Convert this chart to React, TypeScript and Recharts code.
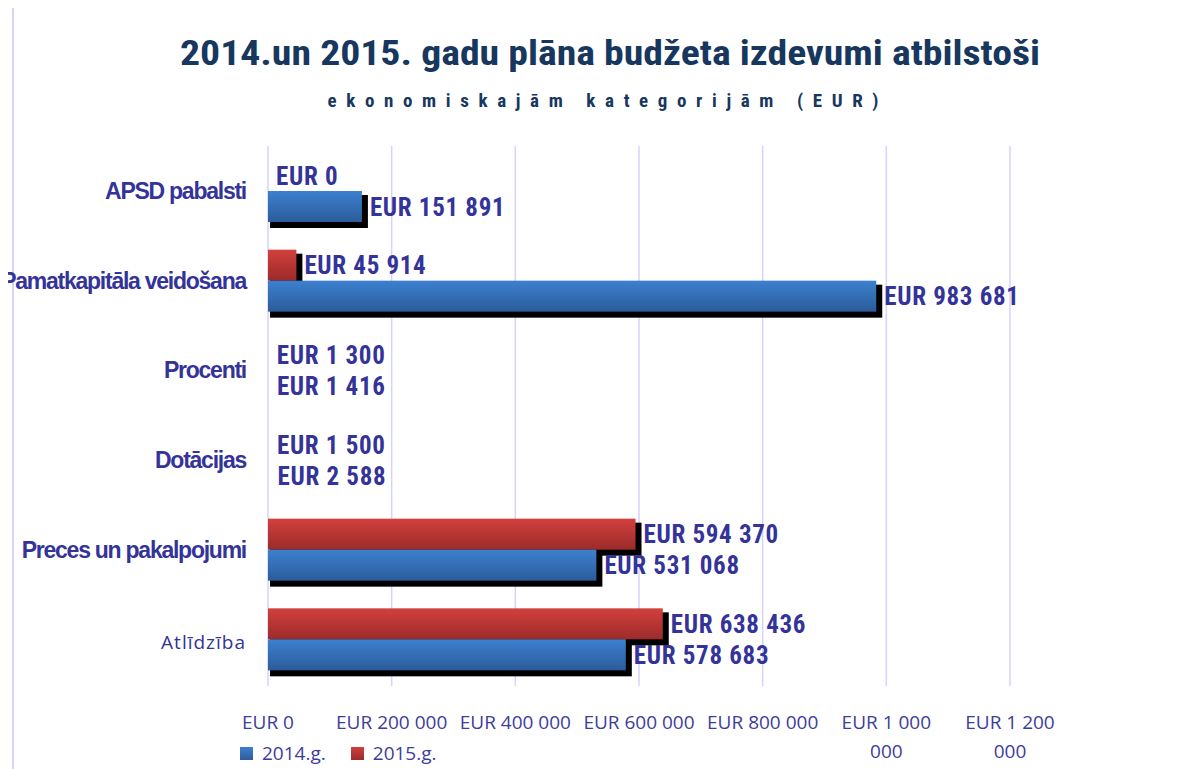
import { Bar, BarChart, CartesianGrid, LabelList, XAxis, YAxis } from 'recharts'

const categories = [
  'APSD pabalsti',
  'Pamatkapitāla veidošana',
  'Procenti',
  'Dotācijas',
  'Preces un pakalpojumi',
  'Atlīdzība',
]
const values2014 = [151891, 983681, 1416, 2588, 531068, 578683]
const values2015 = [0, 45914, 1300, 1500, 594370, 638436]
const xTicks = [0, 200000, 400000, 600000, 800000, 1000000, 1200000]
const seriesNames = ['2014.g.', '2015.g.']
const titleText = '2014.un 2015. gadu plāna budžeta izdevumi atbilstoši'
const subtitleText = 'ekonomiskajām kategorijām (EUR)'

const data = categories.map((name, i) => ({
  name,
  y2014: values2014[i],
  y2015: values2015[i],
}))

const formatEur = (v: number) =>
  'EUR ' + String(Math.round(v)).replace(/\B(?=(\d{3})+(?!\d))/g, ' ')

const NARROW = '"Liberation Sans Narrow", "Roboto Condensed", "Liberation Sans", Arial, sans-serif'
const TEXT_BLUE = '#333399'
const GRID = '#d4d4fa'

// bars thinner than a couple of pixels are not visible in the original
function ShadowBar(props: any) {
  const { x, y, width, height, fill } = props
  if (!width || width < 2) return null
  return (
    <g>
      <rect x={x + 2} y={y + 4} width={width + 4} height={height + 2} fill="#000" />
      <rect x={x} y={y} width={width} height={height} fill={fill} />
    </g>
  )
}

function ValueLabel(props: any) {
  const { x, y, width, height, value } = props
  return (
    <text
      x={Number(x) + Number(width) + 8}
      y={Number(y) + Number(height) / 2 + 9}
      fill={TEXT_BLUE}
      fontFamily={NARROW}
      fontWeight={700}
      fontSize={25}
      letterSpacing={0.7}
    >
      {formatEur(Number(value))}
    </text>
  )
}

function CategoryTick({ y, payload }: any) {
  const plain = payload.value === 'Atlīdzība'
  if (plain) {
    return (
      <text
        x={246}
        y={y + 10}
        textAnchor="end"
        fill={TEXT_BLUE}
        fontFamily='"Open Sans", sans-serif'
        fontSize={19}
        letterSpacing={1}
      >
        {payload.value}
      </text>
    )
  }
  return (
    <text
      x={246}
      y={y + 8}
      textAnchor="end"
      fill={TEXT_BLUE}
      fontFamily='"Liberation Sans", Arial, sans-serif'
      fontWeight={700}
      fontSize={23}
      letterSpacing={-1.25}
    >
      {payload.value}
    </text>
  )
}

function ValueTick({ x, y, payload }: any) {
  const words = formatEur(payload.value).split(' ')
  const lines =
    words.length > 3 ? [words.slice(0, 3).join(' '), words.slice(3).join(' ')] : [words.join(' ')]
  return (
    <text
      x={x}
      y={y}
      textAnchor="middle"
      fill="#3d3d9c"
      fontFamily='"Open Sans", sans-serif'
      fontSize={19}
    >
      {lines.map((line, i) => (
        <tspan key={i} x={x} dy={i === 0 ? 41 : 29}>
          {line}
        </tspan>
      ))}
    </text>
  )
}

export default function App() {
  return (
    <div
      style={{
        position: 'relative',
        width: 1194,
        height: 769,
        margin: '-8px 0 0 -8px',
        background: '#fff',
        overflow: 'hidden',
      }}
    >
      <svg width={0} height={0} style={{ position: 'absolute' }}>
        <defs>
          <linearGradient id="grad2014" x1="0" y1="0" x2="0" y2="1">
            <stop offset="0%" stopColor="#3d80cf" />
            <stop offset="100%" stopColor="#2b5c9b" />
          </linearGradient>
          <linearGradient id="grad2015" x1="0" y1="0" x2="0" y2="1">
            <stop offset="0%" stopColor="#d1403d" />
            <stop offset="100%" stopColor="#9c2b2a" />
          </linearGradient>
        </defs>
      </svg>

      <div
        style={{ position: 'absolute', left: 12, top: 0, width: 2, height: 769, background: GRID }}
      />

      <svg width={1194} height={130} style={{ position: 'absolute', left: 0, top: 0 }}>
        <text
          x={610}
          y={65}
          textAnchor="middle"
          fill="#17375e"
          fontFamily={NARROW}
          fontWeight={700}
          fontSize={35}
          textLength={860}
          lengthAdjust="spacingAndGlyphs"
        >
          {titleText}
        </text>
        <text
          x={606}
          y={107}
          textAnchor="middle"
          fill="#17375e"
          fontFamily={NARROW}
          fontWeight={700}
          fontSize={19}
          letterSpacing={6}
          textLength={557}
          lengthAdjust="spacing"
        >
          {subtitleText}
        </text>
      </svg>

      <div style={{ position: 'absolute', left: 0, top: 0 }}>
        <BarChart
          width={1194}
          height={769}
          data={data}
          layout="vertical"
          margin={{ top: 146, right: 184, bottom: 0, left: 0 }}
          barSize={31}
          barGap={0}
        >
          <CartesianGrid horizontal={false} stroke={GRID} strokeWidth={1.5} />
          <XAxis
            type="number"
            domain={[0, 1200000]}
            ticks={xTicks}
            axisLine={false}
            tickLine={{ stroke: GRID, strokeWidth: 1.5 }}
            tickSize={2}
            height={85}
            interval={0}
            tick={<ValueTick />}
          />
          <YAxis
            type="category"
            dataKey="name"
            width={268}
            axisLine={false}
            tickLine={false}
            interval={0}
            tick={<CategoryTick />}
          />
          <Bar
            dataKey="y2015"
            name={seriesNames[1]}
            fill="url(#grad2015)"
            shape={<ShadowBar />}
            isAnimationActive={false}
          >
            <LabelList dataKey="y2015" content={<ValueLabel />} />
          </Bar>
          <Bar
            dataKey="y2014"
            name={seriesNames[0]}
            fill="url(#grad2014)"
            shape={<ShadowBar />}
            isAnimationActive={false}
          >
            <LabelList dataKey="y2014" content={<ValueLabel />} />
          </Bar>
        </BarChart>
      </div>

      <div
        style={{
          position: 'absolute',
          left: 240,
          top: 740,
          display: 'flex',
          alignItems: 'center',
          fontFamily: '"Open Sans", sans-serif',
          fontSize: 19,
          color: '#3d3d9c',
        }}
      >
        {seriesNames.map((n, i) => (
          <div key={n} style={{ display: 'flex', alignItems: 'center', marginRight: 25 }}>
            <span
              style={{
                display: 'inline-block',
                width: 13,
                height: 13,
                marginRight: 9,
                background:
                  i === 0
                    ? 'linear-gradient(#3d80cf, #2b5c9b)'
                    : 'linear-gradient(#d1403d, #9c2b2a)',
              }}
            />
            <span>{n}</span>
          </div>
        ))}
      </div>
    </div>
  )
}
